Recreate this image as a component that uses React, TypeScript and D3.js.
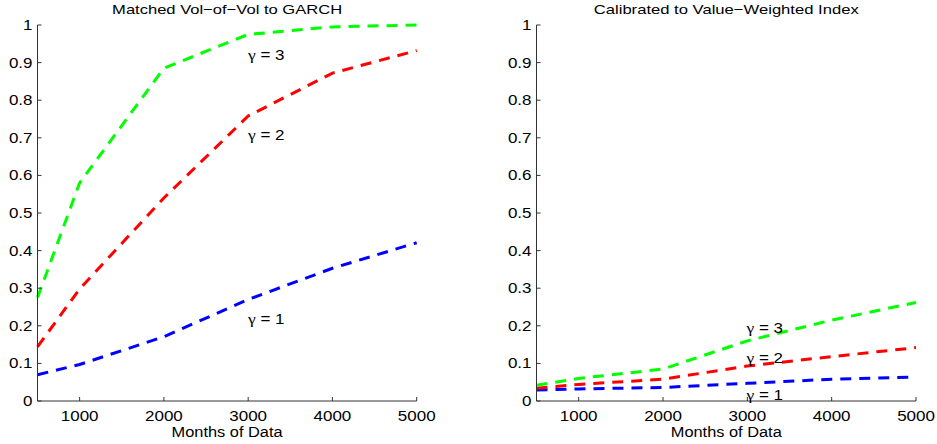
import React from "react";
import * as d3 from "d3";

const months = [500, 1000, 2000, 3000, 4000, 5000];
const xTicks = [1000, 2000, 3000, 4000, 5000];
const yTicks = [0, 0.1, 0.2, 0.3, 0.4, 0.5, 0.6, 0.7, 0.8, 0.9, 1];

const leftGamma1 = [0.07, 0.097, 0.171, 0.27, 0.353, 0.421];
const leftGamma2 = [0.144, 0.298, 0.54, 0.758, 0.872, 0.932];
const leftGamma3 = [0.275, 0.58, 0.885, 0.975, 0.995, 1.0];

const rightGamma1 = [0.029, 0.032, 0.036, 0.047, 0.058, 0.064];
const rightGamma2 = [0.034, 0.044, 0.058, 0.093, 0.118, 0.142];
const rightGamma3 = [0.042, 0.06, 0.085, 0.16, 0.215, 0.262];

const titles = ["Matched Vol\u2212of\u2212Vol to GARCH", "Calibrated to Value\u2212Weighted Index"];
const xLabel = "Months of Data";
const gammaValues = ["1", "2", "3"];
const colors = ["#0000ff", "#ff0000", "#00ff00"];

const FONT = "'Liberation Sans', Arial, Helvetica, sans-serif";
const SERIF = "'Liberation Serif', 'DejaVu Serif', serif";
const SX = 1.17;

type PanelProps = {
  x0: number;
  x1: number;
  title: string;
  titleW: number;
  series: number[][];
  labelX: number;
  labelY: number[];
};

function T({ x, y, anchor, size, children }: any) {
  return (
    <text
      transform={`translate(${x},${y}) scale(${SX},1)`}
      textAnchor={anchor}
      fontSize={size}
      fontFamily={FONT}
      fill="#000"
    >
      {children}
    </text>
  );
}

function Panel({ x0, x1, title, titleW, series, labelX, labelY }: PanelProps) {
  const x = d3.scaleLinear().domain([500, 5000]).range([x0, x1]);
  const y = d3.scaleLinear().domain([0, 1]).range([401, 25]);
  const line = d3
    .line<number>()
    .x((_, i) => x(months[i]))
    .y((d) => y(d));
  const axisColor = "#333";
  const cx = (x0 + x1) / 2;
  return (
    <g>
      <text
        x={cx}
        y={13.5}
        textAnchor="middle"
        fontSize={13.5}
        fontFamily={FONT}
        textLength={titleW}
        lengthAdjust="spacingAndGlyphs"
      >
        {title}
      </text>
      {series.map((s, i) => (
        <path
          key={i}
          d={line(s) || ""}
          fill="none"
          stroke={colors[i]}
          strokeWidth={3}
          strokeDasharray="11,8"
        />
      ))}
      <line x1={x0} x2={x0} y1={y(1)} y2={y(0)} stroke={axisColor} strokeWidth={1} />
      <line x1={x0} x2={x1} y1={y(0)} y2={y(0)} stroke={axisColor} strokeWidth={1} />
      {yTicks.map((t) => (
        <g key={t}>
          <line x1={x0} x2={x0 + 4} y1={y(t)} y2={y(t)} stroke={axisColor} />
          <T x={x0 - 5} y={y(t) + 5} anchor="end" size={14.5}>
            {d3.format("")(+t.toFixed(1))}
          </T>
        </g>
      ))}
      {xTicks.map((t) => (
        <g key={t}>
          <line x1={x(t)} x2={x(t)} y1={y(0)} y2={y(0) - 4} stroke={axisColor} />
          <T x={x(t)} y={421} anchor="middle" size={14.5}>
            {t}
          </T>
        </g>
      ))}
      <text
        x={cx}
        y={437}
        textAnchor="middle"
        fontSize={14}
        fontFamily={FONT}
        textLength={111}
        lengthAdjust="spacingAndGlyphs"
      >
        {xLabel}
      </text>
      {gammaValues.map((g, i) => (
        <T key={g} x={labelX} y={labelY[i]} anchor="start" size={14.5}>
          <tspan fontFamily={SERIF} fontSize={15}>{"\u03b3"}</tspan>
          {" = " + g}
        </T>
      ))}
    </g>
  );
}

export default function App() {
  return (
    <svg width={937} height={444} style={{ display: "block", position: "absolute", left: 0, top: 0 }}>
      <rect width={937} height={444} fill="#fff" />
      <Panel
        x0={37.5}
        x1={416.7}
        title={titles[0]}
        titleW={230}
        series={[leftGamma1, leftGamma2, leftGamma3]}
        labelX={248}
        labelY={[324, 140, 60]}
      />
      <Panel
        x0={536.5}
        x1={916}
        title={titles[1]}
        titleW={265}
        series={[rightGamma1, rightGamma2, rightGamma3]}
        labelX={746.5}
        labelY={[400, 363, 333]}
      />
    </svg>
  );
}
